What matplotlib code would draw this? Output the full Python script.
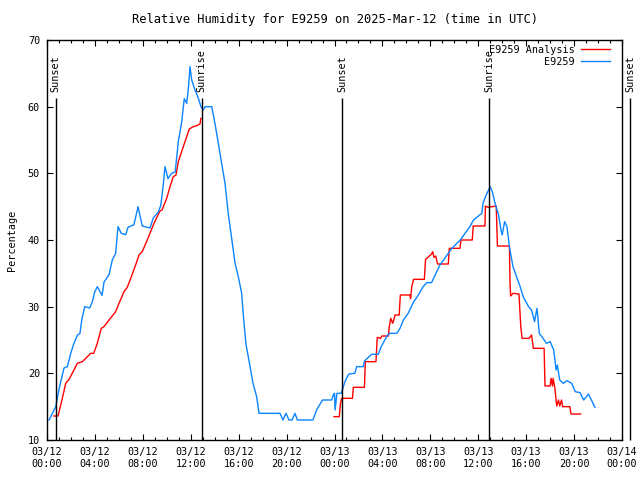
import numpy as np
import pandas as pd
import matplotlib
matplotlib.use("Agg")
import matplotlib.pyplot as plt
import matplotlib.dates as mdates

plt.rcParams['font.family'] = ['DejaVu Sans Mono']
plt.rcParams['font.size'] = 7.3

base = pd.Timestamp('2025-03-12 00:00')

# station observations (hours after 03/12 00:00 UTC, percent)
obs_hours = [0.17, 0.73, 0.86, 1.05, 1.42, 1.7, 1.98, 2.25, 2.53, 2.75, 2.9, 3.15, 3.56, 3.78,
             3.98, 4.2, 4.6, 4.76, 5.18, 5.45, 5.73, 5.93, 6.2, 6.57, 6.76, 7.26, 7.6, 7.95,
             8.6, 8.87, 9.3, 9.5, 9.7, 9.85, 10.1, 10.4, 10.7, 10.96, 11.24, 11.46, 11.66,
             11.8, 11.94, 12.08, 12.35, 12.63, 12.85, 13.05, 13.2, 13.75, 14.02, 14.3, 14.58,
             14.86, 15.13, 15.4, 15.7, 15.97, 16.25, 16.4, 16.6, 16.95, 17.2, 17.5, 17.7,
             19.45, 19.7, 19.95, 20.2, 20.45, 20.7, 20.9, 22.2, 22.5, 23.0, 23.6, 23.77,
             23.9, 24.0, 24.05, 24.2, 24.55, 24.7, 24.87, 25.0, 25.2, 25.7, 25.85, 26.4,
             26.5, 27.1, 27.65, 27.9, 28.35, 28.6, 29.2, 29.47, 29.75, 30.15, 30.6, 31.0,
             31.4, 31.7, 32.1, 32.4, 32.8, 33.2, 33.8, 34.5, 34.9, 35.3, 35.6, 36.3, 36.4,
             36.6, 37.0, 37.2, 37.4, 37.7, 37.9, 38.0, 38.2, 38.4, 38.6, 38.9, 39.2, 39.5,
             39.75, 40.2, 40.45, 40.7, 40.9, 41.1, 41.4, 41.7, 42.0, 42.3, 42.5, 42.6, 42.8,
             43.1, 43.4, 43.8, 44.1, 44.5, 44.8, 45.2, 45.74]
obs_rh = [13, 15, 16.3, 18, 20.8, 21, 23, 24.5, 25.7, 26, 28, 30, 29.8, 30.7,
          32.2, 33, 31.7, 33.7, 34.8, 37, 38, 42, 41, 40.8, 41.9, 42.3, 45, 42.1,
          41.8, 43.3, 44.2, 45.2, 48.2, 51, 49.2, 50, 50.2, 54.7, 57.7, 61.2, 60.5,
          62.7, 66, 64, 62.5, 61.3, 60, 59.5, 60, 60, 57.5, 54.5, 51.5,
          48.5, 44, 40.5, 36.5, 34.5, 32, 28.5, 24.5, 21, 18.5, 16.5, 14,
          14, 13, 14, 13, 13, 14, 13, 13, 14.5, 16, 16, 16,
          16.75, 17, 14.5, 17, 17, 17.75, 18.75, 19.25, 19.9, 20, 21, 21,
          21.85, 22.85, 22.85, 24, 25.5, 26, 26, 26.75, 28, 29, 30.7, 31.75,
          33, 33.6, 33.6, 34.75, 36.25, 37.25, 38.75, 40, 41, 42, 43, 44, 45.5,
          46.5, 48, 47.1, 45.5, 43.75, 41.5, 40.75, 42.75, 42, 39, 36, 34.5, 33,
          31.5, 30, 29.5, 27.75, 29.75, 26, 25.25, 24.5, 24.75, 23.5, 20.5, 21.25, 19,
          18.5, 18.9, 18.5, 17.25, 17.1, 16, 16.9, 14.9]

# analysis, first day
ana1_hours = [0.58, 0.92, 1.28, 1.56, 1.84, 2.25, 2.53, 2.95, 3.23, 3.65, 3.9, 4.2, 4.53,
              4.76, 5.18, 5.73, 6.01, 6.43, 6.7, 7.04, 7.4, 7.68, 7.95, 8.37, 8.65, 8.93,
              9.43, 9.6, 9.99, 10.27, 10.54, 10.77, 10.96, 11.24, 11.52, 11.88, 12.21,
              12.5, 12.77, 12.85]
ana1_rh = [13.6, 13.6, 16.25, 18.5, 19.1, 20.5, 21.5, 21.75, 22.25, 23, 23, 24.5, 26.75,
           27, 28, 29.25, 30.5, 32.25, 32.9, 34.5, 36.25, 37.75, 38.25, 40, 41.25, 42.5,
           44.35, 44.5, 46.25, 48, 49.5, 49.75, 51.75, 53.25, 54.75, 56.65, 57,
           57.15, 57.4, 58.25]

# analysis, second day
ana2_hours = [23.96, 24.4, 24.5, 24.6, 25.5, 25.57, 26.5, 26.57, 27.46, 27.57, 27.85, 27.95,
              28.5, 28.57, 28.7, 28.85, 28.95, 29.05, 29.4, 29.47, 29.5, 30.3, 30.35, 30.45,
              30.6, 31.5, 31.6, 31.8, 32.1, 32.2, 32.3, 32.45, 32.6, 33.5, 33.58, 34.47,
              34.56, 35.5, 35.58, 36.56, 36.6, 36.8, 37.5, 37.6, 38.6, 38.65, 38.7, 38.9,
              39.4, 39.55, 39.66, 40.25, 40.45, 40.6, 41.5, 41.57, 42.0, 42.08, 42.2, 42.25,
              42.4, 42.55, 42.7, 42.8, 42.95, 43.05, 43.65, 43.74, 44.55]
ana2_rh = [13.5, 13.5, 15.5, 16.25, 16.25, 17.9, 17.9, 21.75, 21.75, 25.4, 25.25, 25.6,
           25.6, 27, 28.25, 27.5, 28, 28.75, 28.75, 31, 31.75, 31.75, 31.2, 33,
           34.1, 34.1, 37.1, 37.4, 37.9, 38.25, 37.4, 37.6, 36.4, 36.4, 38.75, 38.75,
           40, 40, 42.1, 42.1, 45.1, 44.9, 45.1, 39.1, 39.1, 33.75, 31.6, 32,
           31.9, 27, 25.25, 25.25, 25.75, 23.75, 23.75, 18.1, 18.1, 19.25, 18.1, 19.25,
           17.75, 15.1, 16, 15.1, 16, 15, 15, 13.9, 13.9]

sun_hours = [0.72, 12.91, 24.65, 36.92, 48.66]
sun_labels = ['Sunset', 'Sunrise', 'Sunset', 'Sunrise', 'Sunset']


def to_time(hours):
    return base + pd.to_timedelta(np.array(hours), unit='h')


fig = plt.figure(figsize=(6.4, 4.8), dpi=100)
ax = fig.add_axes([47 / 640, 40 / 480, 575 / 640, 400 / 480])

red = '#ff0000'
blue = '#0a84ff'
ax.plot(to_time(ana1_hours), ana1_rh, color=red, lw=1.0, label='E9259 Analysis')
ax.plot(to_time(ana2_hours), ana2_rh, color=red, lw=1.0)
ax.plot(to_time(obs_hours), obs_rh, color=blue, lw=1.0, label='E9259')

for t, lab in zip(to_time(sun_hours), sun_labels):
    ax.vlines(t, 10, 61.3, colors='black', lw=1.0, clip_on=False)
    ax.text(t, 62.2, lab, rotation=90, ha='center', va='bottom', clip_on=False)

ax.set_xlim(base, base + pd.Timedelta(hours=48))
ax.set_ylim(10, 70)
ax.set_yticks(range(10, 71, 10))
ax.xaxis.set_major_locator(mdates.HourLocator(byhour=range(0, 24, 4)))
ax.xaxis.set_minor_locator(mdates.HourLocator())
ax.xaxis.set_major_formatter(mdates.DateFormatter('%m/%d\n%H:%M'))
ax.tick_params(which='both', direction='in', top=True, right=True, colors='black')
ax.tick_params(which='major', length=4.5, width=0.8, pad=5)
ax.tick_params(which='minor', length=2.5, width=0.8)
for s in ax.spines.values():
    s.set_linewidth(1.0)

ax.set_ylabel('Percentage', labelpad=8)
ax.set_title('Relative Humidity for E9259 on 2025-Mar-12 (time in UTC)', pad=12.5)

ax.legend(loc='upper right', bbox_to_anchor=(0.979, 0.9875), frameon=False,
          markerfirst=False, handlelength=2.9, handletextpad=0.6, labelspacing=0.2,
          borderpad=0, borderaxespad=0)

fig.savefig('out.png', dpi=100)
